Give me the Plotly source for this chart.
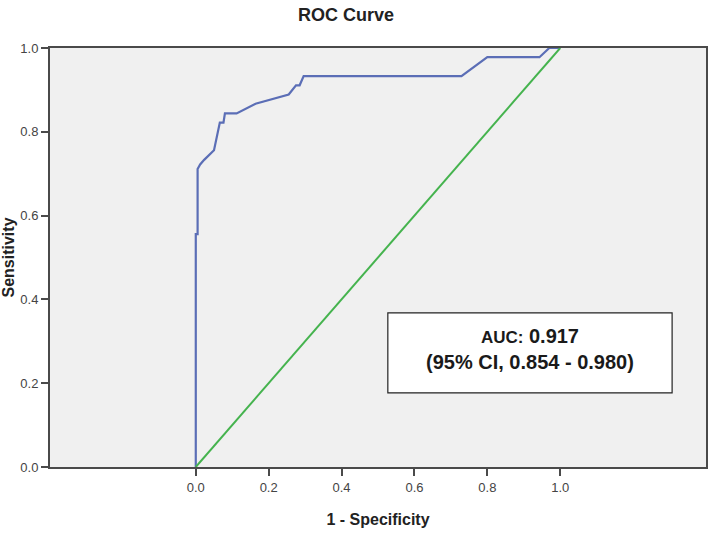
import plotly.graph_objects as go

# ROC curve points
fpr = [0.0, 0.0, 0.005, 0.005, 0.012, 0.023, 0.050, 0.066, 0.076, 0.080, 0.112,
       0.164, 0.255, 0.275, 0.285, 0.296, 0.729, 0.800, 0.943, 0.970, 1.0]
tpr = [0.0, 0.556, 0.556, 0.711, 0.722, 0.733, 0.756, 0.822, 0.822, 0.844, 0.844,
       0.867, 0.889, 0.911, 0.911, 0.933, 0.933, 0.978, 0.978, 1.0, 1.0]
ref_x = [0.0, 1.0]
ref_y = [0.0, 1.0]

tick_vals = [0.0, 0.2, 0.4, 0.6, 0.8, 1.0]
tick_text = ["0.0", "0.2", "0.4", "0.6", "0.8", "1.0"]

auc_text = "<b><span style='font-size:17px'>AUC:</span> 0.917<br>(95% CI, 0.854 - 0.980)</b>"

FONT = "Liberation Sans, Arial, sans-serif"

fig = go.Figure()
fig.add_trace(go.Scatter(x=fpr, y=tpr, mode="lines",
                         line=dict(color="#5B6EB6", width=2.2), showlegend=False))
fig.add_trace(go.Scatter(x=ref_x, y=ref_y, mode="lines",
                         line=dict(color="#45B34E", width=2), showlegend=False))

fig.add_shape(type="rect", xref="x", yref="y", x0=0.527, x1=1.307, y0=0.177, y1=0.368,
              fillcolor="white", line=dict(color="#222222", width=1.2), layer="above")
fig.add_annotation(x=0.917, y=0.281, xref="x", yref="y", text=auc_text, showarrow=False,
                   font=dict(family=FONT, size=20, color="#1a1a1a"), align="center")

fig.update_layout(
    width=709, height=533,
    margin=dict(l=50, r=3, t=48, b=66, autoexpand=False),
    paper_bgcolor="white", plot_bgcolor="#F0F0F0",
    font=dict(family=FONT, color="#333333"),
    title=dict(text="<b>ROC Curve</b>", x=0.488, xref="container", xanchor="center",
               y=0.972, yref="container", yanchor="middle",
               font=dict(family=FONT, size=18, color="#222222")),
)
fig.update_xaxes(range=[-0.4, 1.4], tickvals=tick_vals, ticktext=tick_text,
                 showgrid=False, zeroline=False, showline=True, linecolor="#4a4a4a",
                 linewidth=2, mirror=True, ticks="outside", ticklen=7, tickwidth=2,
                 tickcolor="#4a4a4a", tickfont=dict(size=13, color="#444444"),
                 automargin=False,
                 title=dict(text="<b>1 - Specificity</b>", standoff=20,
                            font=dict(size=16, color="#222222")))
fig.update_yaxes(range=[0, 1], tickvals=tick_vals, ticktext=tick_text,
                 showgrid=False, zeroline=False, showline=True, linecolor="#4a4a4a",
                 linewidth=2, mirror=True, ticks="outside", ticklen=7, tickwidth=2,
                 tickcolor="#4a4a4a", tickfont=dict(size=13, color="#444444"),
                 automargin=False,
                 title=dict(text="<b>Sensitivity</b>", standoff=2,
                            font=dict(size=16, color="#222222")))

fig.write_html("out.html", config={"displayModeBar": False},
               post_script="document.body.style.margin='0';")
